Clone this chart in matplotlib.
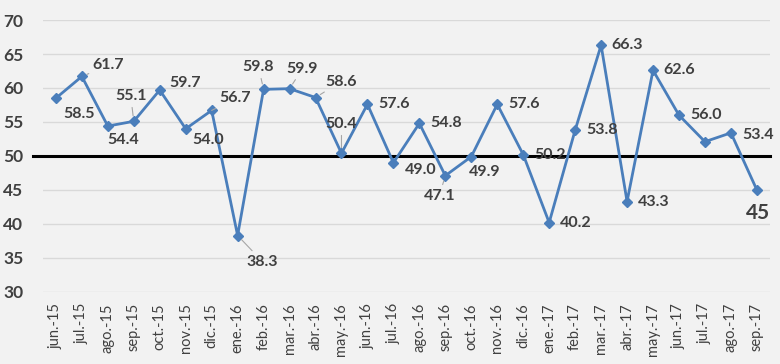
import matplotlib
matplotlib.use('Agg')
import matplotlib.pyplot as plt
import numpy as np

# Datos
meses = ['jun.-15', 'jul.-15', 'ago.-15', 'sep.-15', 'oct.-15', 'nov.-15', 'dic.-15',
         'ene.-16', 'feb.-16', 'mar.-16', 'abr.-16', 'may.-16', 'jun.-16', 'jul.-16',
         'ago.-16', 'sep.-16', 'oct.-16', 'nov.-16', 'dic.-16', 'ene.-17', 'feb.-17',
         'mar.-17', 'abr.-17', 'may.-17', 'jun.-17', 'jul.-17', 'ago.-17', 'sep.-17']
valores = [58.5, 61.7, 54.4, 55.1, 59.7, 54.0, 56.7, 38.3, 59.8, 59.9, 58.6, 50.4, 57.6, 49.0,
           54.8, 47.1, 49.9, 57.6, 50.2, 40.2, 53.8, 66.3, 43.3, 62.6, 56.0, 52.1, 53.4, 45]
etiquetas = ['58.5', '61.7', '54.4', '55.1', '59.7', '54.0', '56.7', '38.3', '59.8', '59.9',
             '58.6', '50.4', '57.6', '49.0', '54.8', '47.1', '49.9', '57.6', '50.2', '40.2',
             '53.8', '66.3', '43.3', '62.6', '56.0', '', '53.4', '45']

# posicion de cada etiqueta (dx, dy en pixeles, alineacion, linea guia)
pos_etiq = [(7, -16, 'left', False), (11, 11, 'left', True), (0, -14, 'left', False),
            (-3, 25, 'center', True), (10, 7, 'left', False), (7, -11, 'left', False),
            (8, 12, 'left', True), (9, -26, 'left', True), (-5, 22, 'center', True),
            (13, 20, 'center', True), (10, 16, 'left', True), (0, 29, 'center', True),
            (11, 0, 'left', False), (11, -7, 'left', False), (11, 0, 'left', False),
            (-6, -20, 'center', True), (13, -15, 'center', False), (11, 0, 'left', False),
            (11, 0, 'left', False), (11, 0, 'left', False), (11, 0, 'left', False),
            (10, 0, 'left', False), (11, 0, 'left', False), (10, 0, 'left', False),
            (11, 0, 'left', False), (0, 0, 'left', False), (11, -2, 'left', False),
            (1, -23, 'center', False)]

plt.rcParams['font.family'] = ['Lato', 'DejaVu Sans']
gris = '#404040'
azul = '#4A7EBB'

fig = plt.figure(figsize=(7.8, 3.64), dpi=100)
fig.patch.set_facecolor('#F2F2F2')
ax = fig.add_axes([0.055, 0.198, 0.932, 0.747])
ax.set_facecolor('#F2F2F2')

x = np.arange(len(meses))
ax.plot(x, valores, color=azul, lw=2.0, marker='D', markersize=5.5, zorder=4)

# linea de 50
ax.axhline(50, xmin=-0.014, xmax=1, color='black', lw=2.2, clip_on=False, zorder=3)

for i, (v, t) in enumerate(zip(valores, etiquetas)):
    if not t:
        continue
    dx, dy, ha, guia = pos_etiq[i]
    size = 15 if i == len(valores) - 1 else 11.5
    props = None
    if guia:
        props = dict(arrowstyle='-', color='#A6A6A6', lw=0.8, shrinkA=1, shrinkB=4)
    ax.annotate(t, (i, v), xytext=(dx, dy), textcoords='offset pixels',
                ha=ha, va='center', fontsize=size, fontweight='bold', color=gris,
                arrowprops=props, zorder=5)

ax.set_xlim(-0.5, len(meses) - 0.5)
ax.set_ylim(30, 70)
ax.set_yticks(np.arange(30, 71, 5))
ax.set_xticks(x)
ax.set_xticklabels(meses, rotation=90, va='top', ha='center', fontsize=10.5, color=gris)
for lab in ax.get_yticklabels():
    lab.set_fontweight('bold')
    lab.set_fontsize(12.5)
    lab.set_color(gris)
ax.tick_params(axis='y', length=0, pad=14)
ax.tick_params(axis='x', length=0, pad=8)
ax.grid(axis='y', color='#D9D9D9', lw=1)
ax.set_axisbelow(True)
for s in ax.spines.values():
    s.set_visible(False)

fig.savefig('out.png', dpi=100, facecolor=fig.get_facecolor())
